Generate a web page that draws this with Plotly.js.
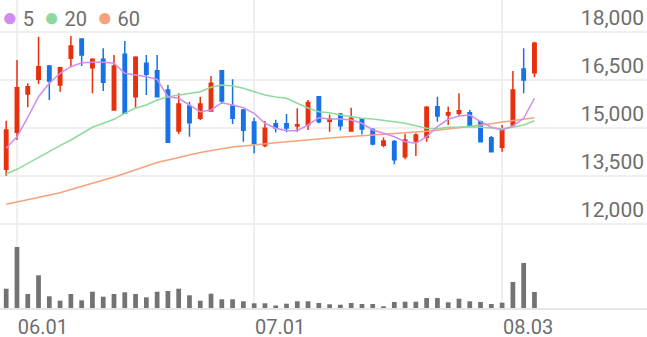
<!DOCTYPE html>
<html>
<head>
<meta charset="utf-8">
<script src="https://cdn.plot.ly/plotly-3.0.1.min.js"></script>
<style>
  html, body { margin: 0; padding: 0; background: #ffffff; }
  #chart { width: 647px; height: 337px; }
</style>
</head>
<body>
<div id="chart"></div>
<script>
// ---- data ----
const dates = ['05.29',
  '06.01','06.02','06.03','06.04','06.05','06.08','06.09','06.10','06.11','06.12',
  '06.15','06.16','06.17','06.18','06.19','06.22','06.23','06.24','06.25','06.26',
  '06.29','06.30',
  '07.01','07.02','07.03','07.06','07.07','07.08','07.09','07.10','07.13','07.14',
  '07.15','07.16','07.17','07.20','07.21','07.22','07.23','07.24','07.27','07.28',
  '07.29','07.30','07.31',
  '08.03','08.04','08.05','08.06'];

const openP  = [13709,14865,16063,16521,16938,16344,17177,17781,16885,17146,
                15563,17302,15979,17021,16791,16188,14906,15688,15303,15531,
                16791,15688,15560,15190,14450,15130,15130,15060,15100,15978,
                15210,15430,14906,15281,14950,14460,14580,14100,14594,14709,
                15666,15406,15459,15479,15197,14697,14397,15094,16844,16729];
const highP  = [15229,17125,16396,17854,16969,16916,17875,17800,17177,17490,
                17281,17719,17240,17281,17281,16344,16084,15822,15979,16625,
                16813,16521,15590,15320,15220,15260,15440,15615,15875,16000,
                15420,15470,15634,15303,14990,14700,14625,14810,14834,15688,
                15979,15666,16084,15563,15228,14750,15094,16781,17490,17697];
const lowP   = [13510,14625,15647,16375,15875,16135,16896,16938,16084,16156,
                15540,15440,15615,16031,15950,14530,14813,14728,15250,15510,
                15750,15125,14570,14210,14400,14860,14870,14880,14940,15147,
                14884,14920,14890,14800,14460,14400,13870,14020,14125,14572,
                15197,15094,15375,15022,14560,14250,14259,15041,16084,16584];
const closeP = [14938,16260,16292,16916,16469,16885,17562,17281,17146,16428,
                16938,15459,17209,16678,15979,14553,15750,15166,15750,16396,
                15844,15303,14930,14520,14990,15000,15000,15100,15800,15197,
                15280,15070,15303,14969,14500,14590,14010,14625,14781,15647,
                15375,15479,15541,15072,14572,14259,14969,16188,16500,17646];

const volume = [386,1220,280,654,234,146,280,154,326,226,
                280,314,280,214,326,340,386,254,146,286,
                174,174,134,94,94,50,86,134,134,100,
                74,66,100,80,80,34,120,126,126,200,
                200,114,186,134,120,80,106,520,900,320];

const ma5  = [14366,14728,15334,15978,16397,16709,16916,17041,17053,17053,
              17022,16709,16656,16603,16522,15978,15928,15719,15509,15563,
              15791,15719,15634,15459,15147,14991,14916,14916,15094,15322,
              15281,15281,15250,15147,14938,14834,14728,14572,14522,14728,
              15041,15272,15375,15406,15197,15022,14938,15063,15303,15928];
const ma20 = [13563,13709,13897,14072,14259,14447,14625,14834,15022,15147,
              15272,15459,15625,15719,15875,15978,16031,16084,16134,16272,
              16344,16313,16241,16134,16031,15969,15928,15772,15625,15509,
              15478,15406,15344,15303,15281,15250,15197,15147,15072,14991,
              14978,15022,15022,15041,15022,14991,14978,15022,15094,15228];
const ma60 = [12616,12688,12766,12838,12906,12978,13078,13172,13266,13375,
              13469,13578,13688,13803,13922,14000,14069,14156,14234,14303,
              14350,14406,14444,14478,14509,14538,14569,14603,14631,14663,
              14688,14709,14731,14753,14781,14803,14825,14844,14869,14897,
              14931,14969,15006,15047,15088,15134,15188,15234,15281,15322];

const xTickVals = ['06.01','07.01','08.03'];
const xTickText = ['06.01','07.01','08.03'];
const yTickVals = [12000,13500,15000,16500,18000];
const yTickText = ['12,000','13,500','15,000','16,500','18,000'];

const maNames  = ['5','20','60'];
const maColors = ['#cf8eef','#8fd99c','#f7a27d'];

// ---- styling ----
const RED = '#e8300e', BLUE = '#1872e6', VOLC = '#737373';
const GRID = '#efefef', TXT = '#6e6e6e', FONT = 'Roboto, "Noto Sans", sans-serif';

const traces = [];
[ma60, ma20, ma5].forEach((arr, k) => {
  const idx = 2 - k;
  traces.push({
    type: 'scatter', mode: 'lines', x: dates, y: arr,
    xaxis: 'x', yaxis: 'y',
    line: { color: maColors[idx], width: 1.5 },
    hoverinfo: 'skip', showlegend: false
  });
});
traces.push({
  type: 'candlestick', x: dates,
  open: openP, high: highP, low: lowP, close: closeP,
  xaxis: 'x', yaxis: 'y',
  increasing: { line: { color: RED, width: 1.5 }, fillcolor: RED },
  decreasing: { line: { color: BLUE, width: 1.5 }, fillcolor: BLUE },
  whiskerwidth: 0, hoverinfo: 'skip', showlegend: false
});
traces.push({
  type: 'bar', x: dates, y: volume, xaxis: 'x', yaxis: 'y2',
  marker: { color: VOLC }, width: 0.44,
  hoverinfo: 'skip', showlegend: false
});

const legendText = maNames.map((n, i) =>
  '<span style="color:' + maColors[i] + ';font-size:26px">●</span>&nbsp;' + n
).join('&nbsp;&nbsp;');

const layout = {
  width: 647, height: 337,
  margin: { l: 0, r: 0, t: 0, b: 29, pad: 0 },
  paper_bgcolor: '#ffffff', plot_bgcolor: '#ffffff',
  showlegend: false, hovermode: false, dragmode: false,
  boxgap: 0.55,
  font: { family: FONT, color: TXT },
  xaxis: {
    type: 'category', range: [-0.575, 59.44], anchor: 'y2',
    tickmode: 'array', tickvals: xTickVals, ticktext: xTickText,
    ticks: '', showgrid: true, gridcolor: GRID, gridwidth: 1.5,
    zeroline: false, showline: true, linecolor: '#e6e6e6', linewidth: 1.5,
    tickfont: { family: FONT, size: 20, color: TXT },
    ticklabelshift: 26,
    rangeslider: { visible: false }, fixedrange: true
  },
  yaxis: {
    domain: [0.2468, 1], range: [11750, 19000], side: 'right',
    tickmode: 'array', tickvals: yTickVals, ticktext: yTickText,
    ticklabelposition: 'inside', ticklabelshift: -14, ticks: '',
    showgrid: true, gridcolor: GRID, gridwidth: 1.5, zeroline: false,
    tickfont: { family: FONT, size: 21, color: TXT }, fixedrange: true
  },
  yaxis2: {
    domain: [0, 0.2468], range: [0, 1520],
    showgrid: false, showticklabels: false, zeroline: false, ticks: '',
    fixedrange: true
  },
  annotations: [{
    xref: 'paper', yref: 'paper', x: 0, y: 1 - 17 / 308,
    xanchor: 'left', yanchor: 'middle', showarrow: false,
    text: legendText, font: { family: FONT, size: 20, color: TXT }
  }]
};

Plotly.newPlot('chart', traces, layout, { staticPlot: true, displayModeBar: false });
</script>
</body>
</html>
